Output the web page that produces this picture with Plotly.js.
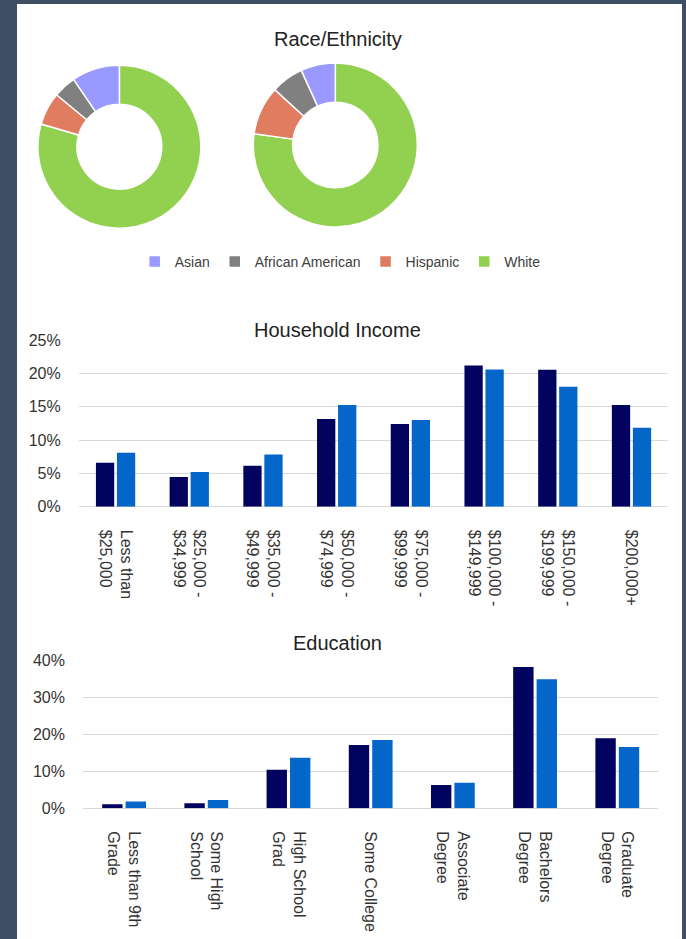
<!DOCTYPE html>
<html>
<head>
<meta charset="utf-8">
<script src="https://cdn.plot.ly/plotly-3.0.1.min.js"></script>
<style>
  html, body { margin: 0; padding: 0; background: #3e4e65; width: 686px; height: 939px; overflow: hidden; }
  #chart { position: absolute; left: 17px; top: 4px; width: 665px; height: 935px; }
</style>
</head>
<body>
<div id="chart"></div>
<script>
// ---- Data ----
var raceLabels = ["Asian", "African American", "Hispanic", "White"];
var raceValues1 = [9.5, 4.5, 6.5, 79.5];
var raceValues2 = [6.8, 6.4, 9.6, 77.2];
var raceColors = ["#9999ff", "#808080", "#e07c60", "#92d050"];

var incomeCats = ["Less than<br>$25,000", "$25,000 -<br>$34,999", "$35,000 -<br>$49,999",
  "$50,000 -<br>$74,999", "$75,000 -<br>$99,999", "$100,000 -<br>$149,999",
  "$150,000 -<br>$199,999", "$200,000+"];
var incomeSeries1 = [0.066, 0.0445, 0.0615, 0.1315, 0.124, 0.212, 0.2055, 0.1525];
var incomeSeries2 = [0.081, 0.052, 0.0785, 0.1525, 0.130, 0.206, 0.180, 0.1185];

var eduCats = ["Less than 9th<br>Grade", "Some High<br>School", "High School<br>Grad",
  "Some College", "Associate<br>Degree", "Bachelors<br>Degree", "Graduate<br>Degree"];
var eduSeries1 = [0.0108, 0.0135, 0.104, 0.171, 0.063, 0.381, 0.189];
var eduSeries2 = [0.018, 0.0225, 0.136, 0.184, 0.069, 0.348, 0.165];

var darkBlue = "#02025f";
var lightBlue = "#0466c8";
var FONT = "Liberation Sans, Arial, sans-serif";

// The slices run counter-clockwise from 12 o'clock in legend order;
// drawn clockwise from 12 o'clock in reversed order gives the same picture.
function rev(a) { return a.slice().reverse(); }

var traces = [
  {
    type: "pie", labels: rev(raceLabels), values: rev(raceValues1), hole: 0.52,
    sort: false, direction: "clockwise", rotation: 0,
    marker: { colors: rev(raceColors), line: { color: "#ffffff", width: 1.5 } },
    textinfo: "none", domain: { x: [0.0314, 0.2765], y: [0.7602, 0.9345] },
    showlegend: true
  },
  {
    type: "pie", labels: rev(raceLabels), values: rev(raceValues2), hole: 0.52,
    sort: false, direction: "clockwise", rotation: 0,
    marker: { colors: rev(raceColors), line: { color: "#ffffff", width: 1.5 } },
    textinfo: "none", domain: { x: [0.3553, 0.6020], y: [0.7615, 0.9369] },
    showlegend: false
  },
  { type: "bar", name: "Series 1", x: incomeCats, y: incomeSeries1, marker: { color: darkBlue },
    xaxis: "x", yaxis: "y", showlegend: false },
  { type: "bar", name: "Series 2", x: incomeCats, y: incomeSeries2, marker: { color: lightBlue },
    xaxis: "x", yaxis: "y", showlegend: false },
  { type: "bar", name: "Series 1", x: eduCats, y: eduSeries1, marker: { color: darkBlue },
    xaxis: "x2", yaxis: "y2", showlegend: false },
  { type: "bar", name: "Series 2", x: eduCats, y: eduSeries2, marker: { color: lightBlue },
    xaxis: "x2", yaxis: "y2", showlegend: false }
];

var tickFont = { family: FONT, size: 16, color: "#333333" };
var layout = {
  width: 665, height: 935,
  margin: { l: 0, r: 0, t: 0, b: 0 },
  paper_bgcolor: "#ffffff", plot_bgcolor: "rgba(0,0,0,0)",
  font: { family: FONT, color: "#333333" },
  barmode: "group", bargap: 0.43, bargroupgap: 0.13,
  legend: {
    orientation: "h", x: 0.486, xanchor: "center", y: 0.7241, yanchor: "middle",
    font: { family: FONT, size: 14, color: "#404040" }, traceorder: "reversed"
  },
  xaxis: {
    domain: [0.0928, 0.9795], anchor: "y", type: "category",
    tickangle: 90, tickfont: tickFont, showgrid: false, showline: false,
    ticks: "", ticklabelstandoff: 22, fixedrange: true
  },
  yaxis: {
    domain: [0.4623, 0.6406], anchor: "x", range: [0, 0.25], dtick: 0.05,
    tickformat: ".0%", tickfont: tickFont, gridcolor: "#d9d9d9", gridwidth: 1,
    zeroline: true, zerolinecolor: "#d9d9d9", zerolinewidth: 1,
    ticks: "", ticklabelstandoff: 17, showline: false, fixedrange: true
  },
  xaxis2: {
    domain: [0.0992, 0.9645], anchor: "y2", type: "category",
    tickangle: 90, tickfont: tickFont, showgrid: false, showline: false,
    ticks: "", ticklabelstandoff: 22, fixedrange: true
  },
  yaxis2: {
    domain: [0.1398, 0.2984], anchor: "x2", range: [0, 0.40], dtick: 0.10,
    tickformat: ".0%", tickfont: tickFont, gridcolor: "#d9d9d9", gridwidth: 1,
    zeroline: true, zerolinecolor: "#d9d9d9", zerolinewidth: 1,
    ticks: "", ticklabelstandoff: 17, showline: false, fixedrange: true
  },
  annotations: [
    { text: "Race/Ethnicity", xref: "paper", yref: "paper", x: 0.4827, y: 0.9626,
      xanchor: "center", yanchor: "middle", showarrow: false,
      font: { family: FONT, size: 20, color: "#222222" } },
    { text: "Household Income", xref: "paper", yref: "paper", x: 0.4827, y: 0.6513,
      xanchor: "center", yanchor: "middle", showarrow: false,
      font: { family: FONT, size: 20, color: "#222222" } },
    { text: "Education", xref: "paper", yref: "paper", x: 0.4827, y: 0.3166,
      xanchor: "center", yanchor: "middle", showarrow: false,
      font: { family: FONT, size: 20, color: "#222222" } }
  ]
};

Plotly.newPlot("chart", traces, layout, { displayModeBar: false, staticPlot: true });
</script>
</body>
</html>
